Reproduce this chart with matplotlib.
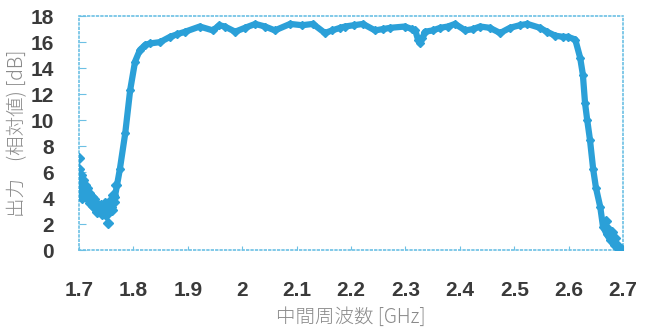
import numpy as np
import matplotlib.pyplot as plt

# main trace: frequency [GHz], output [dB]
freq = [1.702, 1.710, 1.720, 1.730, 1.739, 1.746, 1.753, 1.760, 1.766, 1.775,
        1.785, 1.794, 1.803, 1.812, 1.822, 1.831, 1.849, 1.867, 1.880, 1.895,
        1.922, 1.946, 1.958, 1.968, 1.987, 2.005, 2.024, 2.042, 2.060, 2.088,
        2.110, 2.130, 2.152, 2.165, 2.180, 2.189, 2.205, 2.222, 2.244, 2.258,
        2.272, 2.299, 2.312, 2.318, 2.323, 2.327, 2.331, 2.336, 2.350, 2.364,
        2.378, 2.391, 2.410, 2.424, 2.437, 2.455, 2.474, 2.492, 2.510, 2.524,
        2.547, 2.560, 2.575, 2.590, 2.599, 2.612, 2.621, 2.626, 2.630, 2.634,
        2.639, 2.645, 2.650, 2.658, 2.663, 2.670, 2.676, 2.683, 2.689, 2.694]
level = [5.4, 4.8, 4.2, 3.6, 3.3, 3.1, 3.0, 3.3, 4.1, 6.2,
         9.0, 12.3, 14.5, 15.4, 15.8, 15.9, 16.0, 16.4, 16.6, 16.8,
         17.2, 16.9, 17.3, 17.2, 16.8, 17.1, 17.4, 17.2, 16.9, 17.4,
         17.3, 17.4, 16.7, 16.9, 17.1, 17.2, 17.3, 17.4, 16.9, 17.0,
         17.1, 17.2, 17.0, 16.9, 16.2, 15.9, 16.3, 16.8, 16.9, 17.1,
         17.2, 17.4, 16.9, 17.0, 17.2, 17.1, 16.7, 17.1, 17.3, 17.4,
         17.1, 16.8, 16.5, 16.4, 16.4, 16.2, 14.8, 13.5, 11.3, 10.0,
         8.5, 6.2, 4.8, 3.3, 1.8, 1.2, 0.8, 0.4, 0.15, 0.0]

# scattered points around the noisy dip and the lower tail
noise_freq = [1.700, 1.700, 1.701, 1.701, 1.703, 1.704, 1.705, 1.707, 1.709,
              1.711, 1.713, 1.715, 1.717, 1.719, 1.721, 1.723, 1.725, 1.727,
              1.729, 1.731, 1.733, 1.735, 1.737, 1.740, 1.742, 1.744, 1.747,
              1.749, 1.751, 1.753, 1.755, 1.757, 1.760, 1.762, 1.765, 1.768,
              2.668, 2.673, 2.680, 2.685, 2.690, 2.697]
noise_level = [7.1, 6.2, 5.2, 4.4, 5.8, 4.9, 4.0, 5.4, 4.6,
               5.0, 4.2, 4.8, 3.9, 4.4, 3.6, 4.1, 3.4, 3.9,
               3.2, 3.6, 2.9, 3.4, 3.0, 3.5, 2.8, 3.2, 3.6,
               2.7, 3.0, 2.1, 3.4, 3.8, 3.1, 4.2, 3.7, 5.0,
               2.2, 1.6, 1.4, 0.9, 0.3, 0.1]

xticks = [1.7, 1.8, 1.9, 2.0, 2.1, 2.2, 2.3, 2.4, 2.5, 2.6, 2.7]
xticklabels = ['1.7', '1.8', '1.9', '2', '2.1', '2.2', '2.3', '2.4', '2.5', '2.6', '2.7']
yticks = list(range(0, 19, 2))

blue = '#2ba0d8'
frame = '#6cc0e4'

fig = plt.figure(figsize=(6.54, 3.29), dpi=100, facecolor='white')
ax = fig.add_axes([0.1208, 0.240, 0.832, 0.711])

ax.plot(freq, level, color=blue, lw=4.5, solid_capstyle='round', zorder=2)
ax.plot(freq, level, 'D', color=blue, ms=4, zorder=3)
ax.plot(noise_freq, noise_level, 'D', color=blue, ms=5, ls='none', zorder=3)

ax.set_xlim(1.7, 2.7)
ax.set_ylim(0, 18)
ax.set_xticks(xticks)
ax.set_xticklabels(xticklabels)
ax.set_yticks(yticks)

for s in ax.spines.values():
    s.set_color(frame)
    s.set_linestyle(':')
    s.set_linewidth(1.2)

ax.tick_params(axis='y', direction='in', length=5, color=frame, pad=18,
               labelsize=15, labelcolor='#3a3a3a')
ax.tick_params(axis='x', direction='in', length=3, color=frame, pad=22,
               labelsize=15, labelcolor='#3a3a3a')
for t in ax.get_xticklabels() + ax.get_yticklabels():
    t.set_family(['Liberation Sans', 'DejaVu Sans'])
    t.set_fontweight('bold')

ax.set_xlabel('中間周波数 [GHz]', family=['Noto Sans CJK JP', 'DejaVu Sans'],
              fontsize=14, color='#8a8a8a', fontweight='light', labelpad=5)
ax.set_ylabel('出力    (相対値) [dB]', family=['Noto Sans CJK JP', 'DejaVu Sans'],
              fontsize=14, color='#8a8a8a', fontweight='light', labelpad=2)

plt.savefig('out.png', dpi=100, facecolor='white')
